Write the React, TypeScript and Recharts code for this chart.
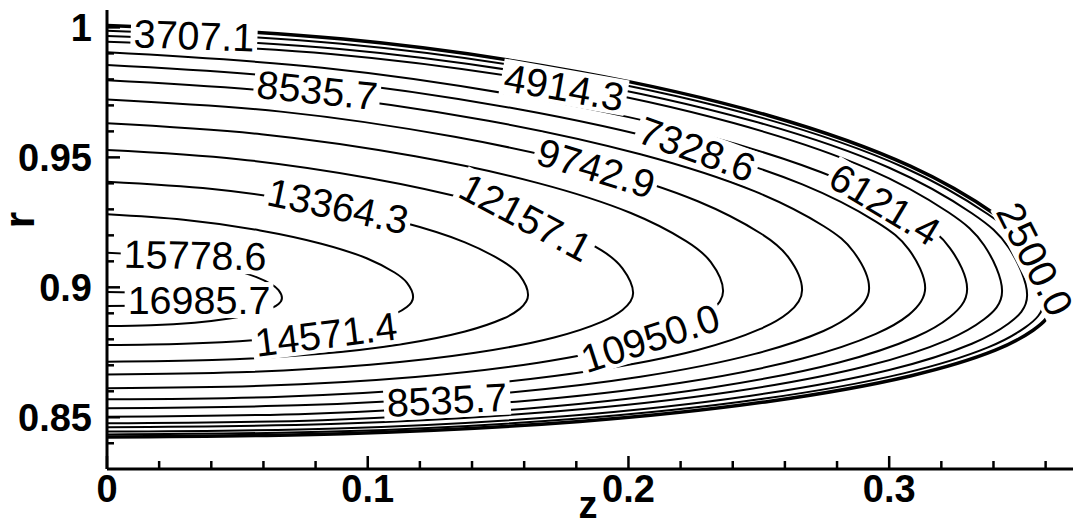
import { ScatterChart, Scatter, XAxis, YAxis } from 'recharts';

// contour levels, innermost first (the last one is the unlabelled wall level)
const levels = [16985.7, 15778.6, 14571.4, 13364.3, 12157.1, 10950.0, 9742.9, 8535.7, 7328.6, 6121.4, 4914.3, 3707.1, 2500.0, 1292.9];

// each contour: [z, r] from the upper wall side, round the nose, back to z = 0
const c16985 = [[0,0.8982],[0.0104,0.8980],[0.0207,0.8977],[0.0290,0.8972],[0.0352,0.8968],[0.0389,0.8963],[0.0406,0.8960],[0.0414,0.8955],[0.0406,0.8949],[0.0389,0.8945],[0.0352,0.8940],[0.0290,0.8935],[0.0207,0.8931],[0.0104,0.8929],[0,0.8928]];
const c15778 = [[0,0.9133],[0.0168,0.9122],[0.0336,0.9099],[0.0470,0.9071],[0.0571,0.9040],[0.0631,0.9011],[0.0658,0.8989],[0.0671,0.8959],[0.0658,0.8936],[0.0631,0.8920],[0.0571,0.8900],[0.0470,0.8880],[0.0336,0.8864],[0.0168,0.8854],[0,0.8851]];
const c14571 = [[0,0.9281],[0.0294,0.9260],[0.0587,0.9219],[0.0822,0.9168],[0.0998,0.9111],[0.1103,0.9057],[0.1150,0.9018],[0.1174,0.8963],[0.1150,0.8924],[0.1103,0.8897],[0.0998,0.8862],[0.0822,0.8827],[0.0587,0.8799],[0.0294,0.8783],[0,0.8778]];
const c13364 = [[0,0.9406],[0.0404,0.9378],[0.0808,0.9321],[0.1130,0.9251],[0.1373,0.9173],[0.1518,0.9100],[0.1583,0.9046],[0.1615,0.8970],[0.1583,0.8917],[0.1518,0.8879],[0.1373,0.8830],[0.1130,0.8781],[0.0808,0.8743],[0.0404,0.8720],[0,0.8714]];
const c12157 = [[0,0.9528],[0.0504,0.9493],[0.1009,0.9420],[0.1412,0.9332],[0.1715,0.9234],[0.1897,0.9142],[0.1977,0.9073],[0.2018,0.8978],[0.1977,0.8913],[0.1897,0.8867],[0.1715,0.8807],[0.1412,0.8748],[0.1009,0.8702],[0.0504,0.8673],[0,0.8665]];
const c10950 = [[0,0.9631],[0.0591,0.9589],[0.1182,0.9504],[0.1654,0.9401],[0.2009,0.9286],[0.2221,0.9178],[0.2316,0.9097],[0.2363,0.8986],[0.2316,0.8908],[0.2221,0.8852],[0.2009,0.8781],[0.1654,0.8710],[0.1182,0.8655],[0.0591,0.8621],[0,0.8612]];
const c9742 = [[0,0.9723],[0.0667,0.9676],[0.1333,0.9579],[0.1866,0.9462],[0.2266,0.9331],[0.2506,0.9208],[0.2613,0.9116],[0.2666,0.8990],[0.2613,0.8902],[0.2506,0.8840],[0.2266,0.8759],[0.1866,0.8680],[0.1333,0.8618],[0.0667,0.8579],[0,0.8569]];
const c8535 = [[0,0.9797],[0.0731,0.9746],[0.1462,0.9641],[0.2046,0.9512],[0.2485,0.9369],[0.2748,0.9236],[0.2864,0.9136],[0.2923,0.8997],[0.2864,0.8901],[0.2748,0.8832],[0.2485,0.8744],[0.2046,0.8656],[0.1462,0.8588],[0.0731,0.8546],[0,0.8535]];
const c7328 = [[0,0.9855],[0.0784,0.9800],[0.1569,0.9687],[0.2196,0.9549],[0.2667,0.9396],[0.2949,0.9253],[0.3075,0.9146],[0.3138,0.8997],[0.3075,0.8894],[0.2949,0.8821],[0.2667,0.8726],[0.2196,0.8632],[0.1569,0.8560],[0.0784,0.8514],[0,0.8502]];
const c6121 = [[0,0.9904],[0.0825,0.9845],[0.1649,0.9725],[0.2309,0.9580],[0.2804,0.9417],[0.3101,0.9265],[0.3233,0.9151],[0.3299,0.8994],[0.3233,0.8886],[0.3101,0.8809],[0.2804,0.8710],[0.2309,0.8613],[0.1649,0.8537],[0.0825,0.8489],[0,0.8477]];
const c4914 = [[0,0.9945],[0.0858,0.9898],[0.1717,0.9784],[0.2403,0.9632],[0.2918,0.9457],[0.3227,0.9289],[0.3364,0.9162],[0.3433,0.8986],[0.3364,0.8877],[0.3227,0.8799],[0.2918,0.8698],[0.2403,0.8599],[0.1717,0.8522],[0.0858,0.8474],[0,0.8462]];
const c3707 = [[0,0.9967],[0.0882,0.9918],[0.1765,0.9799],[0.2470,0.9642],[0.3000,0.9460],[0.3317,0.9285],[0.3458,0.9153],[0.3529,0.8970],[0.3458,0.8861],[0.3317,0.8783],[0.3000,0.8682],[0.2470,0.8583],[0.1765,0.8505],[0.0882,0.8457],[0,0.8445]];
const c2500 = [[0,0.9987],[0.0899,0.9937],[0.1797,0.9814],[0.2516,0.9651],[0.3055,0.9462],[0.3379,0.9281],[0.3522,0.9145],[0.3594,0.8955],[0.3522,0.8846],[0.3379,0.8769],[0.3055,0.8669],[0.2516,0.8571],[0.1797,0.8494],[0.0899,0.8446],[0,0.8434]];
const c1292 = [[0,1.0007],[0.0906,0.9955],[0.1813,0.9828],[0.2537,0.9661],[0.3081,0.9466],[0.3407,0.9280],[0.3552,0.9139],[0.3625,0.8944],[0.3552,0.8835],[0.3407,0.8758],[0.3081,0.8659],[0.2537,0.8561],[0.1813,0.8484],[0.0906,0.8437],[0,0.8424]];

const contours = [c16985, c15778, c14571, c13364, c12157, c10950, c9742, c8535, c7328, c6121, c4914, c3707, c2500, c1292];

// contour labels: text, anchor (z, r) and rotation in degrees
const labelText = ['3707.1', '8535.7', '4914.3', '7328.6', '9742.9', '6121.4', '2500.0', '13364.3', '12157.1', '15778.6', '16985.7', '14571.4', '10950.0', '8535.7'];
const labelZ = [0.0334, 0.0806, 0.1753, 0.2263, 0.1876, 0.2984, 0.3560, 0.0886, 0.1607, 0.0338, 0.0353, 0.0840, 0.2083, 0.1304];
const labelR = [0.9969, 0.9759, 0.9770, 0.9532, 0.9459, 0.9320, 0.9109, 0.9313, 0.9270, 0.9124, 0.8951, 0.8820, 0.8805, 0.8567];
const labelAngle = [2, 6, 10, 20, 17, 31, 63, 12, 28, 1, 0, -7, -18, -3];

const xTicks = [0, 0.02, 0.04, 0.06, 0.08, 0.1, 0.12, 0.14, 0.16, 0.18, 0.2, 0.22, 0.24, 0.26, 0.28, 0.3, 0.32, 0.34, 0.36];
const xMajor = [0, 0.1, 0.2, 0.3];
const yTicks = [0.84, 0.85, 0.86, 0.87, 0.88, 0.89, 0.9, 0.91, 0.92, 0.93, 0.94, 0.95, 0.96, 0.97, 0.98, 0.99, 1];
const yMajor = [0.85, 0.9, 0.95, 1];

const FONT = "'Liberation Sans', Arial, Helvetica, sans-serif";
const LABEL_SIZE = 39.5;

const isMajor = (v: number, majors: number[]) => majors.some((m) => Math.abs(m - v) < 1e-9);
const fmt = (v: number) => String(Number(v.toFixed(2)));

function XTick({ x, y, payload }: any) {
    const major = isMajor(payload.value, xMajor);
    return (
        <g>
            <line x1={x} y1={y} x2={x} y2={y - (major ? 13 : 8)} stroke='#000' strokeWidth={2.5} />
            {major && (
                <text x={x} y={y + 33} textAnchor='middle' fontFamily={FONT} fontWeight='bold' fontSize={38} fill='#000'>
                    {fmt(payload.value)}
                </text>
            )}
        </g>
    );
}

function YTick({ x, y, payload }: any) {
    const major = isMajor(payload.value, yMajor);
    return (
        <g>
            <line x1={x} y1={y} x2={x + (major ? 13 : 7)} y2={y} stroke='#000' strokeWidth={2.5} />
            {major && (
                <text x={x - 15} y={y + 13.5} textAnchor='end' fontFamily={FONT} fontWeight='bold' fontSize={38} fill='#000'>
                    {fmt(payload.value)}
                </text>
            )}
        </g>
    );
}

const charWidth = (s: string) =>
    s.split('').reduce((w, ch) => w + (ch === '.' ? 0.278 : 0.556) * LABEL_SIZE, 0);

function ContourLabel(props: any) {
    const { cx, cy, payload } = props;
    const w = charWidth(payload.text) + 6;
    return (
        <g transform={`rotate(${payload.angle} ${cx} ${cy})`}>
            <rect x={cx - w / 2} y={cy - 18} width={w} height={36} fill='#fff' />
            <text x={cx} y={cy + 14} textAnchor='middle' fontFamily={FONT} fontSize={LABEL_SIZE} fill='#000'>
                {payload.text}
            </text>
        </g>
    );
}

const noDot = () => <g />;

export default function App() {
    const series = contours.map((pts) => pts.map(([z, r]) => ({ z, r })));
    const labels = labelText.map((text, i) => ({ z: labelZ[i], r: labelR[i], text, angle: labelAngle[i] }));

    return (
        <div style={{ position: 'absolute', left: 0, top: 0, background: '#fff' }}>
            <ScatterChart width={1075} height={522} margin={{ top: 10, right: 2, bottom: 0, left: 0 }}>
                <XAxis
                    type='number'
                    dataKey='z'
                    domain={[0, 0.3705]}
                    allowDataOverflow
                    ticks={xTicks}
                    interval={0}
                    height={53}
                    tickSize={0}
                    tickMargin={0}
                    tickLine={false}
                    axisLine={{ stroke: '#000', strokeWidth: 3 }}
                    tick={<XTick />}
                    label={{
                        content: () => (
                            <text x={588} y={518} textAnchor='middle' fontFamily={FONT} fontWeight='bold' fontSize={38} fill='#000'>
                                z
                            </text>
                        ),
                    }}
                />
                <YAxis
                    type='number'
                    dataKey='r'
                    domain={[0.8301, 1.0067]}
                    allowDataOverflow
                    ticks={yTicks}
                    interval={0}
                    width={107}
                    tickSize={0}
                    tickMargin={0}
                    tickLine={false}
                    axisLine={{ stroke: '#000', strokeWidth: 3 }}
                    tick={<YTick />}
                    label={{
                        content: () => (
                            <text transform='translate(34,220) rotate(-90)' textAnchor='middle' fontFamily={FONT} fontWeight='bold' fontSize={42} fill='#000'>
                                r
                            </text>
                        ),
                    }}
                />
                {series.map((data, i) => (
                    <Scatter
                        key={`c-${levels[i]}`}
                        name={String(levels[i])}
                        data={data}
                        line={{ stroke: '#000', strokeWidth: i === series.length - 1 ? 3.5 : 2, fill: 'none' }}
                        lineJointType='natural'
                        shape={noDot}
                        isAnimationActive={false}
                    />
                ))}
                <Scatter data={labels} shape={ContourLabel} isAnimationActive={false} />
            </ScatterChart>
        </div>
    );
}
